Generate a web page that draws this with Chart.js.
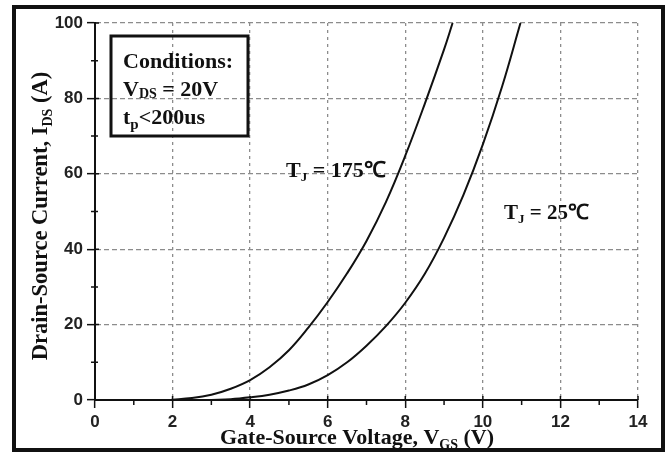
<!DOCTYPE html>
<html>
<head>
<meta charset="utf-8">
<script src="https://cdn.jsdelivr.net/npm/chart.js@4/dist/chart.umd.min.js"></script>
<style>
  body { margin: 0; background: #fff; }
  #wrap { position: relative; width: 670px; height: 461px; }
</style>
</head>
<body>
<div id="wrap"><canvas id="graph" width="670" height="461"></canvas></div>
<script>
// transfer curves
const vgs175 = [1.8, 2, 2.5, 3, 3.5, 4, 4.5, 5, 5.5, 6, 6.5, 7, 7.5, 8, 8.5, 9, 9.22];
const ids175 = [0, 0.1, 0.5, 1.4, 3.0, 5.3, 8.7, 13.2, 19.2, 26, 33.6, 42.2, 52.5, 64.8, 78.5, 93, 100];
const vgs25 = [3, 3.5, 4, 4.5, 5, 5.5, 6, 6.5, 7, 7.5, 8, 8.5, 9, 9.5, 10, 10.5, 10.97];
const ids25 = [0, 0.2, 0.7, 1.4, 2.5, 4.1, 6.6, 10, 14.4, 19.6, 25.8, 33.4, 43, 54.4, 67.8, 83.3, 100];

const xTicks = [0, 2, 4, 6, 8, 10, 12, 14];
const yTicks = [0, 20, 40, 60, 80, 100];
const xMinor = [1, 3, 5, 7, 9, 11, 13];
const yMinor = [10, 30, 50, 70, 90];

const serif = '"Liberation Serif", "Times New Roman", serif';

function toPts(xs, ys) {
  return xs.map((v, i) => ({ x: v, y: ys[i] }));
}

// parts = [[text, isSub], ...]
function richWidth(ctx, parts, size, subSize) {
  let w = 0;
  parts.forEach(p => {
    ctx.font = `bold ${p[1] ? subSize : size}px ${serif}`;
    w += ctx.measureText(p[0]).width;
  });
  return w;
}

function richText(ctx, parts, x, y, size, subSize, subDrop) {
  let cx = x;
  parts.forEach(p => {
    ctx.font = `bold ${p[1] ? subSize : size}px ${serif}`;
    ctx.fillText(p[0], cx, p[1] ? y + subDrop : y);
    cx += ctx.measureText(p[0]).width;
  });
}

const decor = {
  id: 'decor',
  afterDraw(chart) {
    const ctx = chart.ctx;
    const xs = chart.scales.x, ys = chart.scales.y;
    const ax = xs.getPixelForValue(0), ay = ys.getPixelForValue(0);
    ctx.save();
    ctx.strokeStyle = '#111';
    ctx.lineWidth = 1.5;
    ctx.beginPath();
    // minor ticks
    xMinor.forEach(v => {
      const px = xs.getPixelForValue(v);
      ctx.moveTo(px, ay); ctx.lineTo(px, ay + 5);
    });
    yMinor.forEach(v => {
      const py = ys.getPixelForValue(v);
      ctx.moveTo(ax - 4, py); ctx.lineTo(ax + 3, py);
    });
    // major ticks poke slightly inside
    xTicks.forEach(v => {
      const px = xs.getPixelForValue(v);
      ctx.moveTo(px, ay); ctx.lineTo(px, ay - 4);
    });
    yTicks.forEach(v => {
      const py = ys.getPixelForValue(v);
      ctx.moveTo(ax, py); ctx.lineTo(ax + 4, py);
    });
    ctx.stroke();

    ctx.fillStyle = '#111';
    ctx.textBaseline = 'alphabetic';
    ctx.textAlign = 'left';

    // x title
    const xt = [['Gate-Source Voltage, V', false], ['GS', true], [' (V)', false]];
    const xw = richWidth(ctx, xt, 22, 14);
    richText(ctx, xt, 357 - xw / 2, 444, 22, 14, 5);

    // y title
    const yt = [['Drain-Source Current, I', false], ['DS', true], [' (A)', false]];
    const yw = richWidth(ctx, yt, 22.5, 14);
    ctx.save();
    ctx.translate(47, 216);
    ctx.rotate(-Math.PI / 2);
    richText(ctx, yt, -yw / 2, 0, 22.5, 14, 5);
    ctx.restore();

    // conditions box
    ctx.lineWidth = 3;
    ctx.strokeRect(111, 36, 137, 100);
    richText(ctx, [['Conditions:', false]], 123, 68, 22, 14, 0);
    richText(ctx, [['V', false], ['DS', true], [' = 20V', false]], 123, 96, 22, 14, 2);
    richText(ctx, [['t', false], ['p', true], ['<200us', false]], 123, 124, 22, 15, 5);

    // curve labels
    richText(ctx, [['T', false], ['J', true], [' = 175\u2103', false]], 286, 177, 22, 13, 4);
    richText(ctx, [['T', false], ['J', true], [' = 25\u2103', false]], 504, 219, 21, 13, 4);

    // outer frame
    ctx.lineWidth = 4;
    ctx.strokeRect(14, 7, 649, 443);
    ctx.restore();
  }
};

const tickFont = { family: '"Liberation Sans", Arial, sans-serif', size: 17, weight: 'bold' };

new Chart(document.getElementById('graph'), {
  type: 'line',
  data: {
    datasets: [
      { data: toPts(vgs175, ids175), borderColor: '#111', borderWidth: 2, pointRadius: 0, tension: 0.4, fill: false },
      { data: toPts(vgs25, ids25), borderColor: '#111', borderWidth: 2, pointRadius: 0, tension: 0.4, fill: false }
    ]
  },
  options: {
    responsive: false,
    animation: false,
    layout: { padding: { top: 23, right: 32, left: 0, bottom: 0 } },
    plugins: { legend: { display: false }, tooltip: { enabled: false } },
    scales: {
      x: {
        type: 'linear', min: 0, max: 14,
        afterBuildTicks: s => { s.ticks = xTicks.map(v => ({ value: v })); },
        afterFit: s => { s.height = 61; },
        grid: { color: '#8c8c8c', lineWidth: 1.3, tickColor: '#111', tickLength: 8, tickWidth: 1.5 },
        border: { display: true, color: '#111', width: 2, dash: [3, 4] },
        ticks: { font: tickFont, color: '#222', padding: 4, maxRotation: 0 }
      },
      y: {
        type: 'linear', min: 0, max: 100,
        afterBuildTicks: s => { s.ticks = yTicks.map(v => ({ value: v })); },
        afterFit: s => { s.width = 95; },
        grid: { color: '#8c8c8c', lineWidth: 1.3, tickColor: '#111', tickLength: 8, tickWidth: 1.5 },
        border: { display: true, color: '#111', width: 2, dash: [5, 3] },
        ticks: { font: tickFont, color: '#222', padding: 4 }
      }
    }
  },
  plugins: [decor]
});
</script>
</body>
</html>
